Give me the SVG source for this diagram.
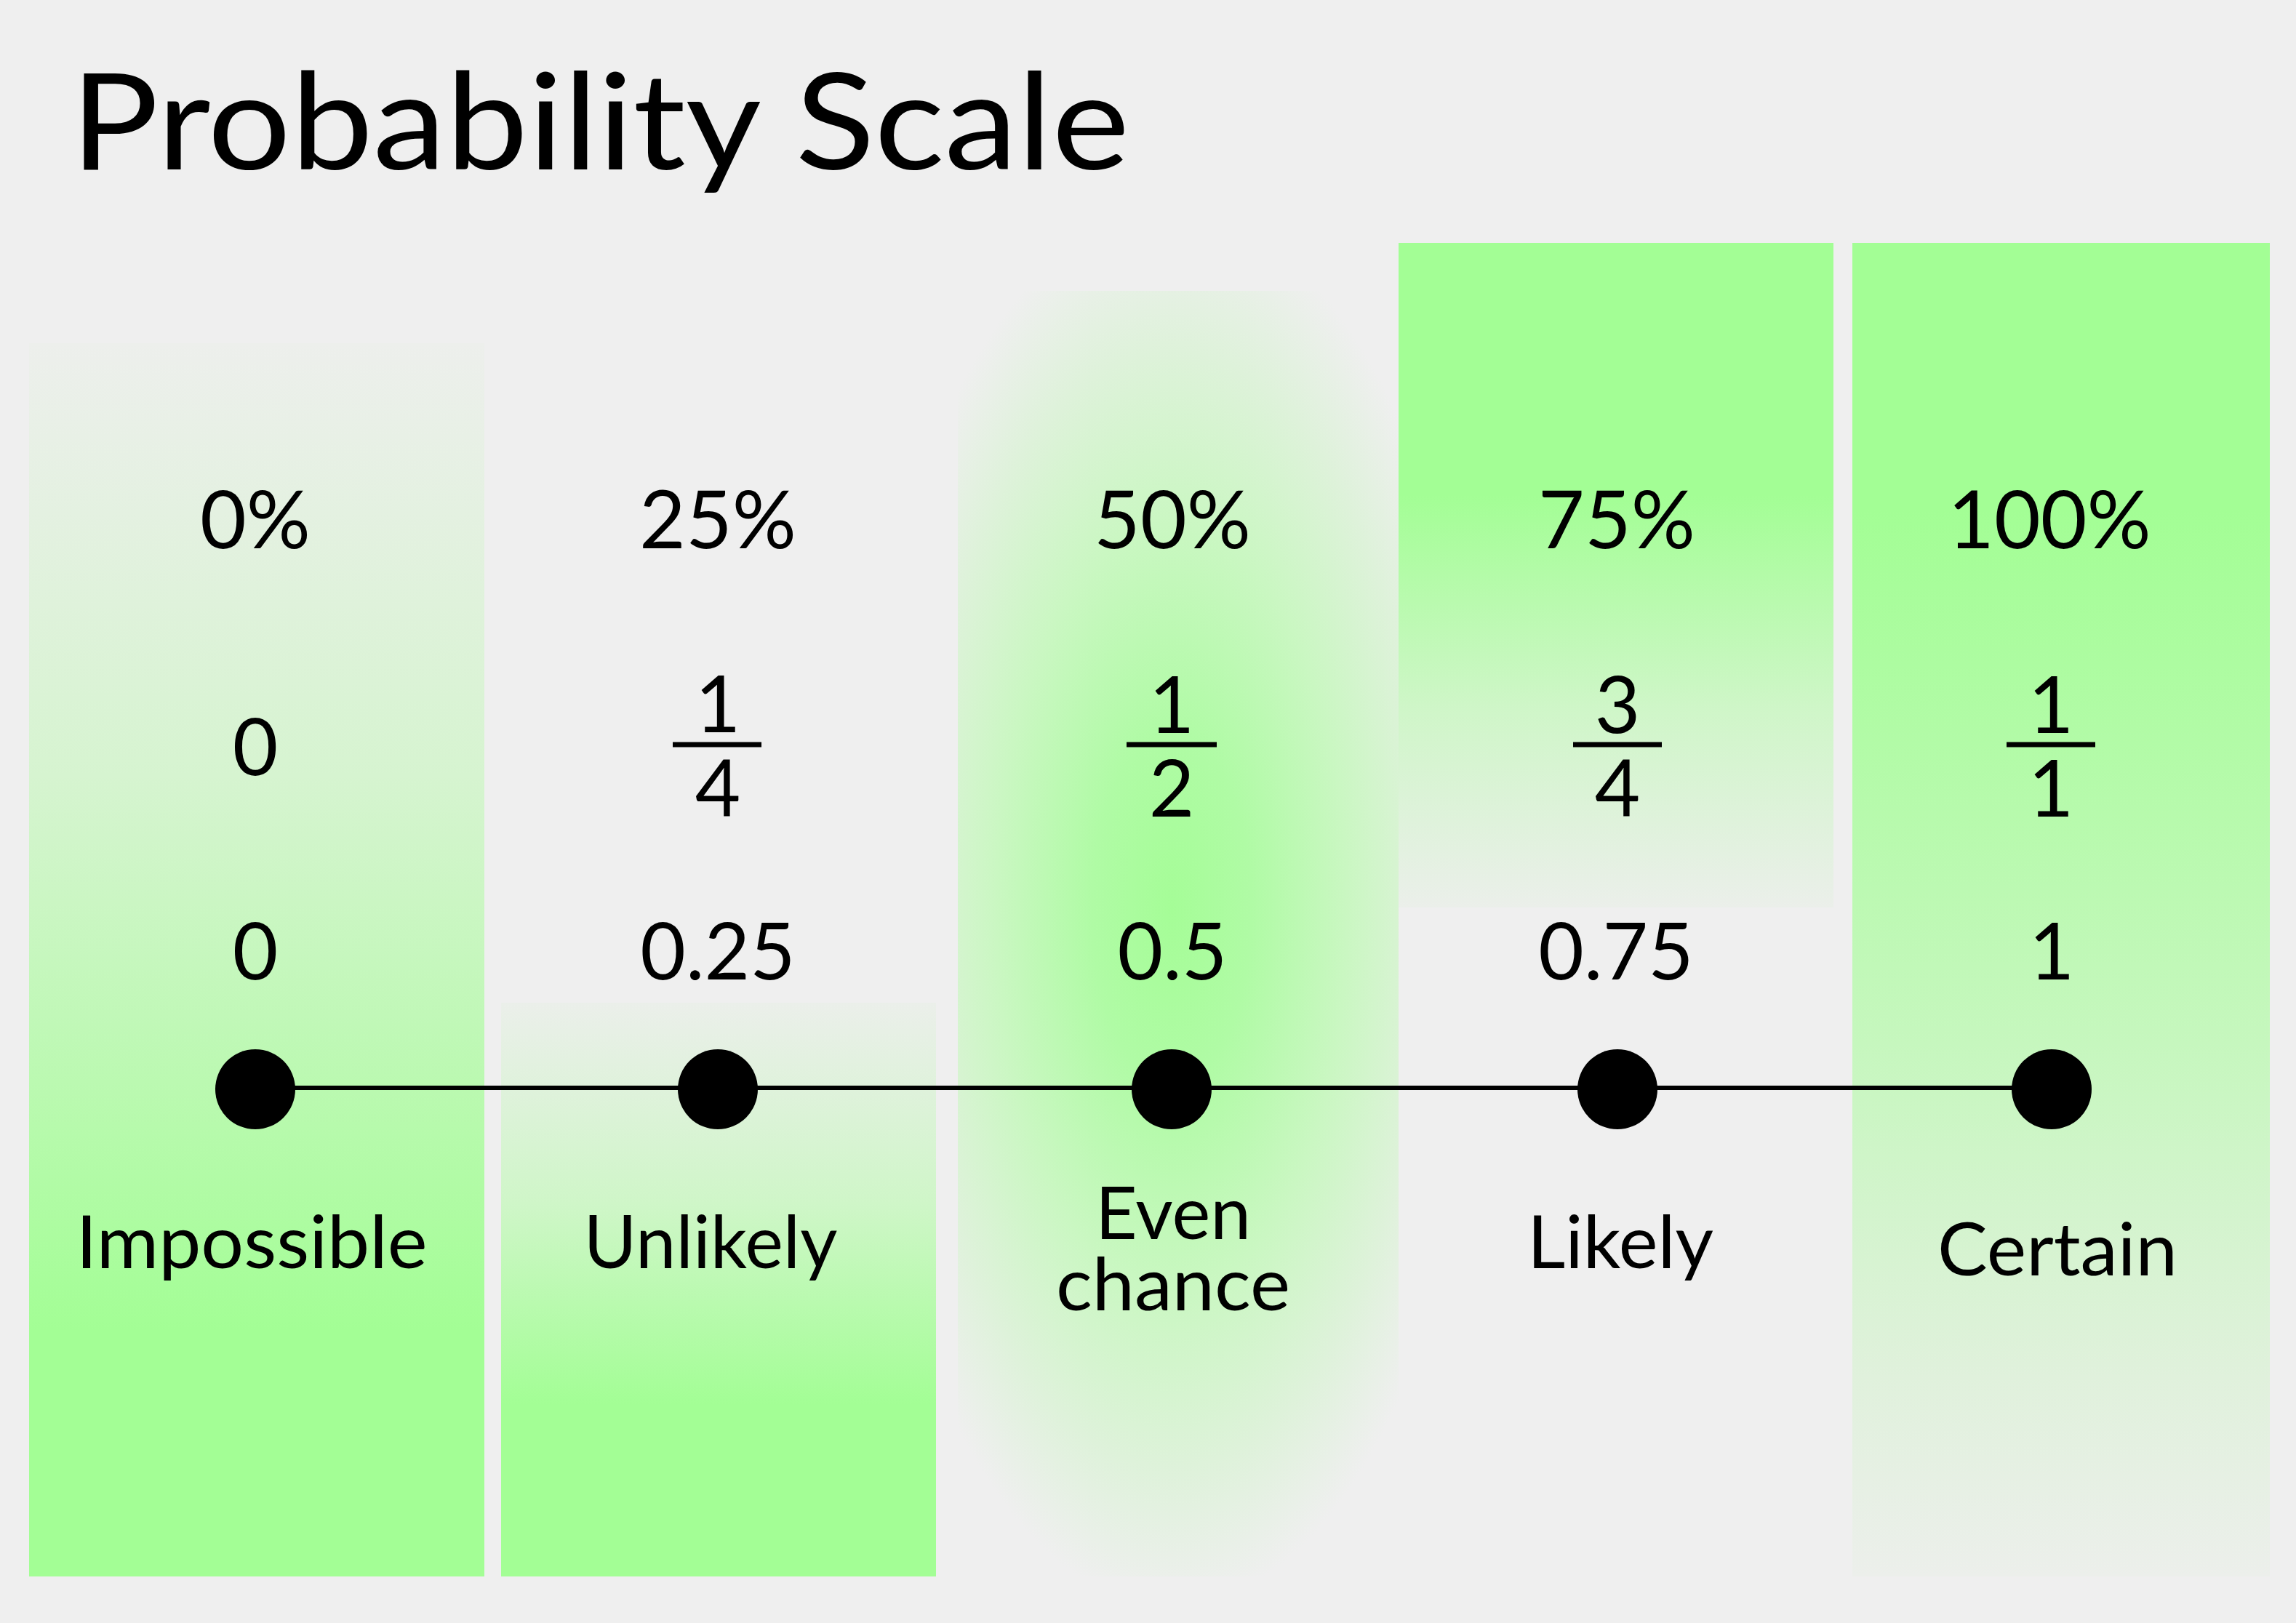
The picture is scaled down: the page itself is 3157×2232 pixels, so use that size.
<svg xmlns="http://www.w3.org/2000/svg" width="3157" height="2232" viewBox="0 0 3157 2232">
  <defs>
    <linearGradient id="gCol1" x1="0" y1="0" x2="0" y2="1">
      <stop offset="0" stop-color="#edefec"/>
      <stop offset="0.35" stop-color="#d6f4d0"/>
      <stop offset="0.6" stop-color="#bbf9b1"/>
      <stop offset="0.8" stop-color="#a3fe95"/>
      <stop offset="1" stop-color="#a3fe95"/>
    </linearGradient>
    <linearGradient id="gCol2" x1="0" y1="0" x2="0" y2="1">
      <stop offset="0" stop-color="#ebefea"/>
      <stop offset="0.35" stop-color="#cff6c8"/>
      <stop offset="0.7" stop-color="#a3fe95"/>
      <stop offset="1" stop-color="#a3fe95"/>
    </linearGradient>
    <linearGradient id="gCol4" x1="0" y1="0" x2="0" y2="1">
      <stop offset="0" stop-color="#a3fe95"/>
      <stop offset="0.38" stop-color="#a3fe95"/>
      <stop offset="0.7" stop-color="#cff6c8"/>
      <stop offset="1" stop-color="#ebefea"/>
    </linearGradient>
    <linearGradient id="gCol5" x1="0" y1="0" x2="0" y2="1">
      <stop offset="0" stop-color="#a3fe95"/>
      <stop offset="0.2" stop-color="#a3fe95"/>
      <stop offset="0.6" stop-color="#c6f7be"/>
      <stop offset="0.85" stop-color="#e0f1dc"/>
      <stop offset="1" stop-color="#ecefeb"/>
    </linearGradient>
    <radialGradient id="gCol3" gradientUnits="userSpaceOnUse" cx="0" cy="0" r="1" gradientTransform="translate(1611 1250) scale(440 960)">
      <stop offset="0" stop-color="#a5fd97"/>
      <stop offset="0.25" stop-color="#b0fba5"/>
      <stop offset="0.55" stop-color="#caf7c2"/>
      <stop offset="0.8" stop-color="#def2da"/>
      <stop offset="1" stop-color="#efefef"/>
    </radialGradient>
    <style>
      .t { font-family: Lato, "Liberation Sans", sans-serif; fill: #000; text-anchor: middle; }
      .pct { font-size: 110px; }
      .num { font-size: 108px; }
      .lbl { font-size: 100px; }
      .bar { stroke: #000; stroke-width: 7; }
      .dot { fill: #000; }
    </style>
  </defs>

  <rect x="0" y="0" width="3157" height="2232" fill="#efefef"/>

  <text x="97" y="233" font-family="Lato, 'Liberation Sans', sans-serif" font-size="185" textLength="1456" lengthAdjust="spacingAndGlyphs" fill="#000">Probability Scale</text>

  <g id="col-impossible">
    <rect x="40" y="472" width="626" height="1696" fill="url(#gCol1)"/>
    <text class="t pct" x="351" y="754">0%</text>
    <text class="t num" x="351" y="1066">0</text>
    <text class="t num" x="351" y="1347">0</text>
    <text class="t lbl" x="346" y="1744" textLength="483" lengthAdjust="spacingAndGlyphs">Impossible</text>
  </g>

  <g id="col-unlikely">
    <rect x="689" y="1379" width="598" height="789" fill="url(#gCol2)"/>
    <text class="t pct" x="987" y="754">25%</text>
    <text class="t num" x="987" y="1007">1</text>
    <line class="bar" x1="925" y1="1024" x2="1047" y2="1024"/>
    <text class="t num" x="987" y="1123">4</text>
    <text class="t num" x="987" y="1347">0.25</text>
    <text class="t lbl" x="977" y="1744" textLength="349" lengthAdjust="spacingAndGlyphs">Unlikely</text>
  </g>

  <g id="col-even">
    <rect x="1317" y="400" width="606" height="1768" fill="url(#gCol3)"/>
    <text class="t pct" x="1612" y="754">50%</text>
    <text class="t num" x="1611" y="1008">1</text>
    <line class="bar" x1="1549" y1="1024" x2="1673" y2="1024"/>
    <text class="t num" x="1611" y="1123">2</text>
    <text class="t num" x="1612" y="1347">0.5</text>
    <text class="t lbl" x="1613" y="1704">Even</text>
    <text class="t lbl" x="1613" y="1802" textLength="322" lengthAdjust="spacingAndGlyphs">chance</text>
  </g>

  <g id="col-likely">
    <rect x="1923" y="334" width="598" height="914" fill="url(#gCol4)"/>
    <text class="t pct" x="2223" y="754">75%</text>
    <text class="t num" x="2224" y="1008">3</text>
    <line class="bar" x1="2163" y1="1024" x2="2285" y2="1024"/>
    <text class="t num" x="2224" y="1123">4</text>
    <text class="t num" x="2222" y="1347">0.75</text>
    <text class="t lbl" x="2228" y="1744" textLength="256" lengthAdjust="spacingAndGlyphs">Likely</text>
  </g>

  <g id="col-certain">
    <rect x="2547" y="334" width="574" height="1834" fill="url(#gCol5)"/>
    <text class="t pct" x="2818" y="754">100%</text>
    <text class="t num" x="2820" y="1008">1</text>
    <line class="bar" x1="2759" y1="1024" x2="2881" y2="1024"/>
    <text class="t num" x="2820" y="1123">1</text>
    <text class="t num" x="2821" y="1347">1</text>
    <text class="t lbl" x="2829" y="1754" textLength="330" lengthAdjust="spacingAndGlyphs">Certain</text>
  </g>

  <g id="connectors">
    <line x1="351" y1="1496" x2="2821" y2="1496" stroke="#000" stroke-width="6"/>
  </g>

  <g id="points">
    <circle class="dot" cx="351" cy="1498" r="55"/>
    <circle class="dot" cx="987" cy="1498" r="55"/>
    <circle class="dot" cx="1611" cy="1498" r="55"/>
    <circle class="dot" cx="2224" cy="1498" r="55"/>
    <circle class="dot" cx="2821" cy="1498" r="55"/>
  </g>
</svg>
